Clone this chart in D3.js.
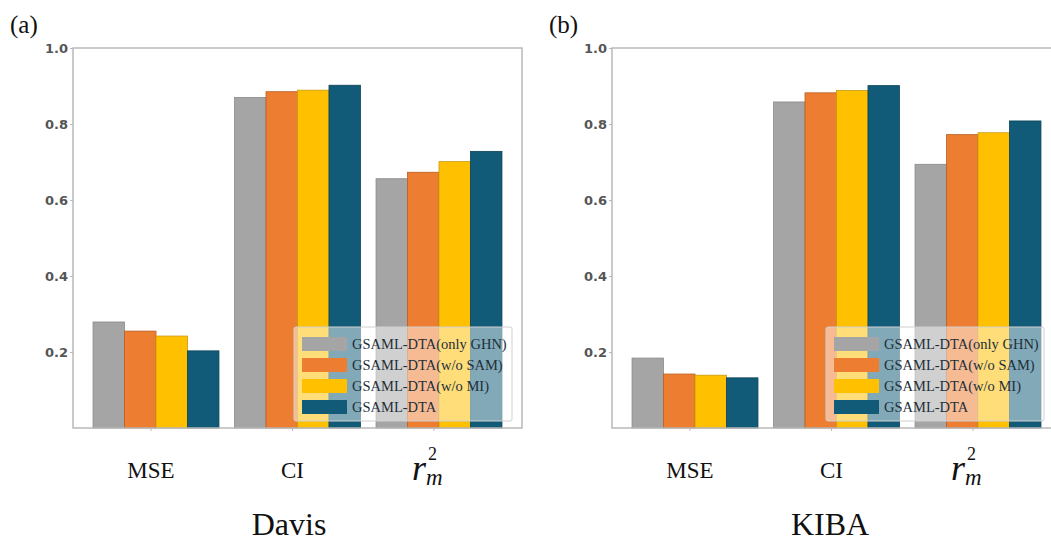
<!DOCTYPE html>
<html><head><meta charset="utf-8">
<script src="https://cdn.jsdelivr.net/npm/d3@7/dist/d3.min.js"></script>
<style>
html,body{margin:0;padding:0;background:#fff;}
svg{display:block;}
</style></head>
<body>
<svg id="chart" width="1051" height="543"></svg>
<script>
// ---- data ----
const categories = ["MSE", "CI", "r2m"];
const seriesNames = ["GSAML-DTA(only GHN)", "GSAML-DTA(w/o SAM)", "GSAML-DTA(w/o MI)", "GSAML-DTA"];
const davisOnlyGHN = [0.279, 0.870, 0.656];
const davisWoSAM   = [0.255, 0.885, 0.673];
const davisWoMI    = [0.242, 0.889, 0.701];
const davisFull    = [0.203, 0.902, 0.728];
const kibaOnlyGHN  = [0.184, 0.858, 0.694];
const kibaWoSAM    = [0.142, 0.882, 0.772];
const kibaWoMI     = [0.139, 0.888, 0.777];
const kibaFull     = [0.132, 0.901, 0.808];
const yTicks = [0.2, 0.4, 0.6, 0.8, 1.0];
const panelTitles = ["Davis", "KIBA"];
const panelLetters = ["(a)", "(b)"];

const colors = ["#A5A5A5", "#ED7D31", "#FFC000", "#115B78"];
const edges  = ["#8a8a8a", "#b85f22", "#c99a10", "#0c4257"];

const svg = d3.select("#chart");

function drawPanel(cfg) {
  const {left, right, top, bottom, values, title, letter, legendRight, titleX} = cfg;
  const g = svg.append("g");
  const y = d3.scaleLinear().domain([0, 1]).range([bottom, top]);
  const x0 = d3.scaleBand().domain(categories).range([left, right])
    .paddingInner(0.11).paddingOuter(0.1416);
  const x1 = d3.scaleBand().domain(seriesNames).range([0, x0.bandwidth()]).padding(0);

  // bars
  categories.forEach((c, ci) => {
    seriesNames.forEach((s, si) => {
      const v = values[si][ci];
      g.append("rect")
        .attr("x", x0(c) + x1(s))
        .attr("y", y(v))
        .attr("width", x1.bandwidth())
        .attr("height", y(0) - y(v))
        .attr("fill", colors[si])
        .attr("stroke", edges[si])
        .attr("stroke-width", 0.8);
    });
  });

  // frame
  g.append("rect").attr("x", left).attr("y", top)
    .attr("width", right - left).attr("height", bottom - top)
    .attr("fill", "none").attr("stroke", "#b9b9b9").attr("stroke-width", 1.5);

  // y axis
  const yAxis = d3.axisLeft(y).tickValues(yTicks).tickFormat(d3.format(".1f")).tickSize(3).tickPadding(2);
  const ya = g.append("g").attr("transform", `translate(${left},0)`).call(yAxis);
  ya.select(".domain").remove();
  ya.selectAll(".tick line").attr("stroke", "#b9b9b9");
  ya.selectAll(".tick text")
    .attr("fill", "#555").attr("font-family", "DejaVu Sans")
    .attr("font-size", 13).attr("font-weight", "bold");

  // x ticks
  categories.forEach(c => {
    const cx = x0(c) + x0.bandwidth() / 2 - 5;
    g.append("line").attr("x1", cx).attr("x2", cx).attr("y1", bottom).attr("y2", bottom + 3)
      .attr("stroke", "#b9b9b9");
  });

  // x labels
  const labY = bottom + 50;
  ["MSE", "CI"].forEach(c => {
    g.append("text").attr("x", x0(c) + x0.bandwidth() / 2 - 5).attr("y", labY)
      .attr("text-anchor", "middle").attr("font-family", "Liberation Serif")
      .attr("font-size", 23).attr("fill", "#111").text(c);
  });
  const rx = x0("r2m") + x0.bandwidth() / 2 - 27;
  const rt = g.append("text").attr("x", rx).attr("y", bottom + 52)
    .attr("font-family", "Liberation Serif").attr("fill", "#111");
  rt.append("tspan").attr("font-style", "italic").attr("font-size", 36).text("r");
  rt.append("tspan").attr("x", rx + 16).attr("dy", -20).attr("font-size", 18).text("2");
  rt.append("tspan").attr("x", rx + 14).attr("dy", 25).attr("font-style", "italic")
    .attr("font-size", 23).text("m");

  // panel title
  g.append("text").attr("x", titleX).attr("y", bottom + 107)
    .attr("text-anchor", "middle").attr("font-family", "Liberation Serif")
    .attr("font-size", 32).attr("fill", "#111").text(title);

  // letter
  g.append("text").attr("x", left - 63).attr("y", 33)
    .attr("font-family", "Liberation Serif").attr("font-size", 25)
    .attr("fill", "#111").text(letter);

  // legend
  const lw = 218, lh = 94;
  const lx = legendRight - lw, ly = bottom - 101;
  const lg = g.append("g");
  lg.append("rect").attr("x", lx).attr("y", ly).attr("width", lw).attr("height", lh)
    .attr("rx", 2)
    .attr("fill", "#ffffff").attr("fill-opacity", 0.48)
    .attr("stroke", "#d0d0d0").attr("stroke-width", 1);
  seriesNames.forEach((s, si) => {
    const ry = ly + 10 + si * 21;
    lg.append("rect").attr("x", lx + 8).attr("y", ry).attr("width", 45).attr("height", 14)
      .attr("fill", colors[si]);
    lg.append("text").attr("x", lx + 58).attr("y", ry + 12)
      .attr("font-family", "Liberation Serif").attr("font-size", 14.5)
      .attr("fill", "#1d2f3a").text(s);
  });
}

drawPanel({left: 73, right: 522, top: 48, bottom: 428,
  values: [davisOnlyGHN, davisWoSAM, davisWoMI, davisFull],
  title: panelTitles[0], letter: panelLetters[0], legendRight: 512, titleX: 289});
drawPanel({left: 612, right: 1061, top: 48, bottom: 428,
  values: [kibaOnlyGHN, kibaWoSAM, kibaWoMI, kibaFull],
  title: panelTitles[1], letter: panelLetters[1], legendRight: 1044, titleX: 830});
</script>
</body></html>
